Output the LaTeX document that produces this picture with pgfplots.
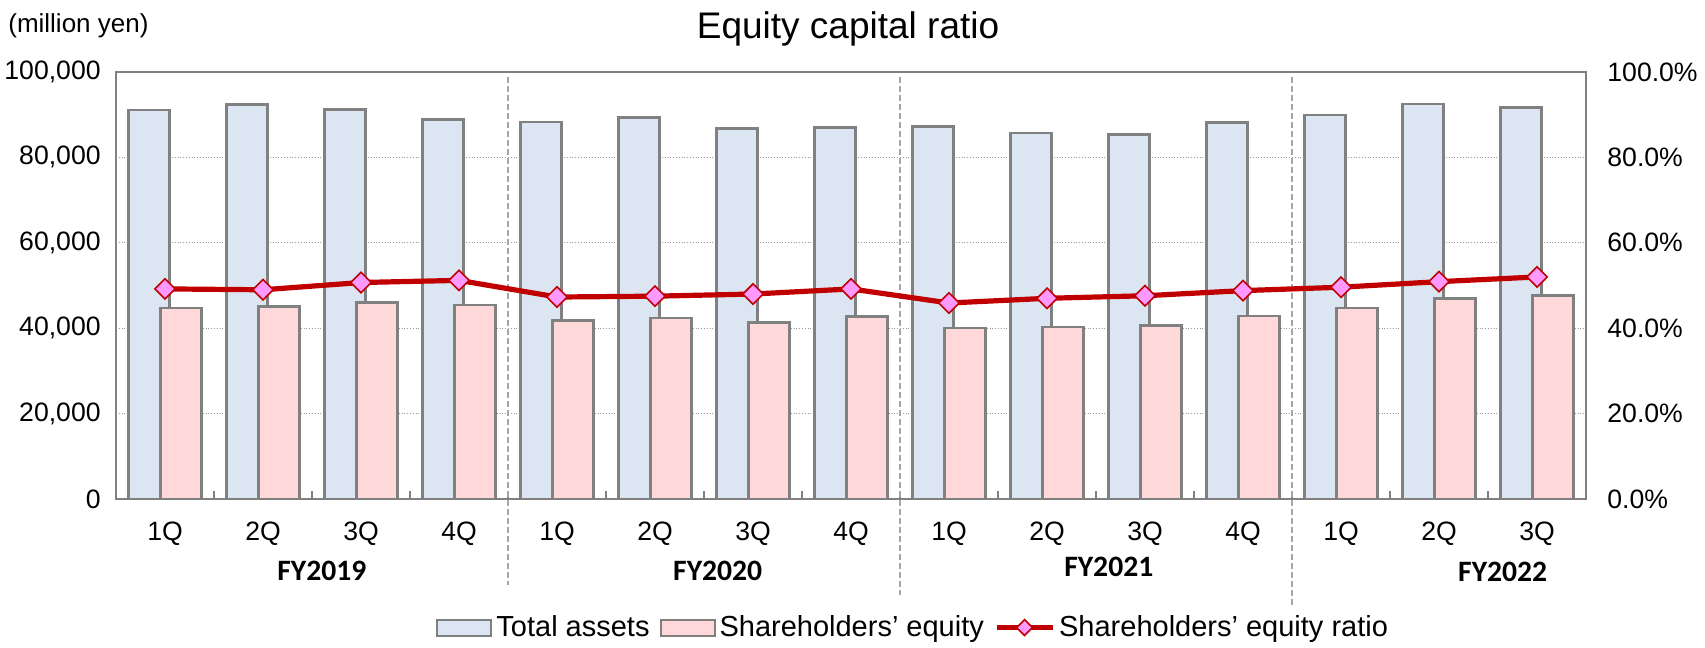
\documentclass[border=0pt]{standalone}
\usepackage{pgfplots}
\usepackage{pgfplotstable}
\pgfplotsset{compat=1.18}
\usepackage{fontspec}
\setmainfont{Liberation Sans}
\newfontfamily\carlito{Carlito}

\definecolor{assetfill}{HTML}{DCE6F2}
\definecolor{equityfill}{HTML}{FFD9D9}
\definecolor{barline}{HTML}{808080}
\definecolor{ratioline}{HTML}{C00000}
\definecolor{markfill}{HTML}{FF99FF}
\definecolor{sepgray}{HTML}{A6A6A6}

\newcommand{\ticksize}{\fontsize{13.3}{16}\selectfont}

% quarters 0..14: FY2019 1Q ... FY2022 3Q
\pgfplotstableread{
q  assets equity ratio
0  91100  44700  49.2
1  92400  45100  49.0
2  91200  46000  50.7
3  88900  45400  51.2
4  88300  41800  47.3
5  89300  42400  47.5
6  86700  41400  48.0
7  87000  42700  49.2
8  87200  40000  45.9
9  85700  40300  47.0
10 85300  40600  47.6
11 88200  42900  48.8
12 89900  44700  49.6
13 92500  47000  50.9
14 91700  47600  52.0
}\datatable

\pgfplotsset{
  ratiostyle/.style={ratioline, line width=2.6pt, mark=square*, mark size=3.6pt,
    mark options={rotate=45, fill=markfill, draw=ratioline, line width=0.8pt, solid}},
  ratioleg/.style={legend image code/.code={%
    \draw[mark repeat=2, mark phase=2, ##1] plot coordinates {(0pt,0pt) (14pt,0pt) (28pt,0pt)};}},
  common/.style={scale only axis, width=735pt, height=213.5pt,
    xmin=-0.5, xmax=14.5, major tick length=0pt,
    axis line style={barline, line width=1.3pt}},
}

\begin{document}
\begin{tikzpicture}
\begin{axis}[
  common, name=ax,
  ymin=0, ymax=100000,
  scaled y ticks=false,
  xtick={0,...,14},
  xticklabels={1Q,2Q,3Q,4Q,1Q,2Q,3Q,4Q,1Q,2Q,3Q,4Q,1Q,2Q,3Q},
  xtick pos=bottom,
  xticklabel style={font=\ticksize, anchor=base, inner sep=0pt, yshift=-20.5pt},
  extra x ticks={0.5,1.5,...,13.5},
  extra x tick labels={},
  extra x tick style={major tick length=4pt, tick style={barline, line width=0.6pt}, grid=none},
  ytick={0,20000,...,100000},
  yticklabels={0,{20,000},{40,000},{60,000},{80,000},{100,000}},
  ytick pos=left,
  yticklabel style={font=\ticksize, anchor=east, inner sep=0pt, xshift=-7.5pt},
  ymajorgrids, grid style={densely dotted, barline!80, line width=0.6pt},
  clip=false,
  legend columns=3,
  legend style={at={(0.543,-0.301)}, anchor=center, draw=none, fill=none,
    font=\fontsize{14.5}{16}\selectfont, inner sep=0pt,
    nodes={inner xsep=2pt, inner ysep=1pt},
    /tikz/every even column/.append style={column sep=3pt}},
]
\addplot[ybar, bar width=20.75pt, bar shift=-8pt, fill=assetfill, draw=barline, line width=1.3pt,
  legend image code/.code={\draw[fill=assetfill, draw=barline, line width=1pt] (0pt,-4pt) rectangle (27pt,4pt);}]
  table[x=q, y=assets]{\datatable};
\addlegendentry{Total assets}
\addplot[ybar, bar width=20.75pt, bar shift=8pt, fill=equityfill, draw=barline, line width=1.3pt,
  legend image code/.code={\draw[fill=equityfill, draw=barline, line width=1pt] (0pt,-4pt) rectangle (27pt,4pt);}]
  table[x=q, y=equity]{\datatable};
\addlegendentry{Shareholders’ equity}
\addlegendimage{ratiostyle, mark size=2.8pt, ratioleg}
\addlegendentry{Shareholders’ equity ratio}

% fiscal year separators
\draw[sepgray, line width=1pt, dash pattern=on 3pt off 1.5pt] ([yshift=-2.5pt]axis cs:3.5,100000) -- ([yshift=-43pt]axis cs:3.5,0);
\draw[sepgray, line width=1pt, dash pattern=on 3pt off 1.5pt] ([yshift=-2.5pt]axis cs:7.5,100000) -- ([yshift=-48pt]axis cs:7.5,0);
\draw[sepgray, line width=1pt, dash pattern=on 3pt off 1.5pt] ([yshift=-2.5pt]axis cs:11.5,100000) -- ([yshift=-54pt]axis cs:11.5,0);

\node[anchor=base, font=\carlito\bfseries\fontsize{14.8}{16}\selectfont] at ([yshift=-40.75pt]axis cs:1.60,0) {FY2019};
\node[anchor=base, font=\carlito\bfseries\fontsize{14.8}{16}\selectfont] at ([yshift=-40.5pt]axis cs:5.64,0) {FY2020};
\node[anchor=base, font=\carlito\bfseries\fontsize{14.8}{16}\selectfont] at ([yshift=-38.75pt]axis cs:9.63,0) {FY2021};
\node[anchor=base, font=\carlito\bfseries\fontsize{14.8}{16}\selectfont] at ([yshift=-41pt]axis cs:13.65,0) {FY2022};

\node[anchor=base, font=\fontsize{18.5}{20}\selectfont] at ([yshift=16.5pt]rel axis cs:0.498,1) {Equity capital ratio};
\node[anchor=base west, inner sep=0pt, font=\fontsize{13}{15}\selectfont] at ([yshift=19.7pt]rel axis cs:-0.0735,1) {(million yen)};
\end{axis}

\begin{axis}[
  common,
  ymin=0, ymax=100,
  axis y line*=right, axis x line=none,
  ytick={0,20,...,100},
  yticklabels={0.0\%,20.0\%,40.0\%,60.0\%,80.0\%,100.0\%},
  yticklabel style={font=\ticksize, anchor=west, inner sep=0pt, xshift=10.5pt},
]
\addplot[ratiostyle] table[x=q, y=ratio]{\datatable};
\end{axis}

\pgfresetboundingbox
\path ([xshift=-58pt, yshift=-74pt]ax.south west) rectangle ([xshift=59.5pt, yshift=36pt]ax.north east);
\end{tikzpicture}
\end{document}
